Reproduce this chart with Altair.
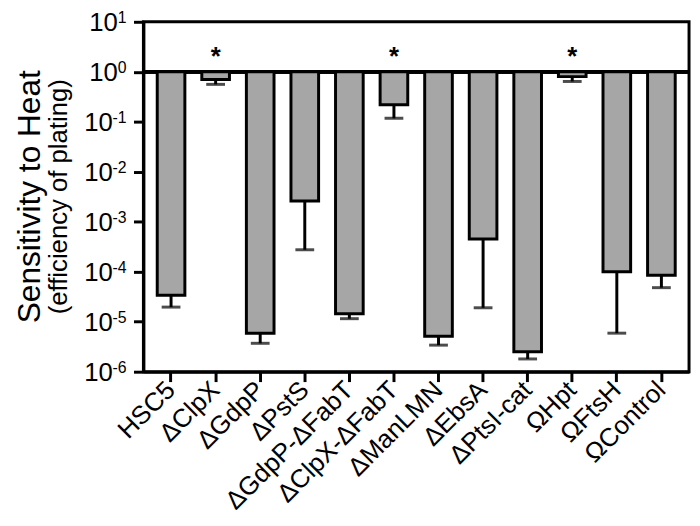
import altair as alt
import pandas as pd

categories = ["HSC5", "ΔClpX", "ΔGdpP", "ΔPstS", "ΔGdpP-ΔFabT", "ΔClpX-ΔFabT",
              "ΔManLMN", "ΔEbsA", "ΔPtsI-cat", "ΩHpt", "ΩFtsH", "ΩControl"]
values = [3.4e-5, 0.70, 5.9e-6, 2.6e-3, 1.44e-5, 0.22, 5.1e-6, 4.5e-4, 2.5e-6, 0.80, 1.0e-4, 8.5e-5]
err_low = [1.96e-5, 0.56, 3.7e-6, 2.75e-4, 1.15e-5, 0.117, 3.4e-6, 1.9e-5, 1.8e-6, 0.64, 5.9e-6, 4.8e-5]
significant = ["ΔClpX", "ΔClpX-ΔFabT", "ΩHpt"]
star_level = 2.0

tick_values = [1e1, 1e0, 1e-1, 1e-2, 1e-3, 1e-4, 1e-5, 1e-6]
tick_exponents = ["1", "0", "-1", "-2", "-3", "-4", "-5", "-6"]

FONT = "Liberation Sans"

df = pd.DataFrame({"cat": categories, "value": values, "low": err_low})
stars = pd.DataFrame({"cat": significant, "y": [star_level] * len(significant), "t": ["*"] * len(significant)})
ticks = pd.DataFrame({"v": tick_values, "e": tick_exponents})
ticks["neg"] = ticks["e"].str.startswith("-")

yscale = alt.Scale(type="log", domain=[1e-6, 10], nice=False)
xscale = alt.Scale(domain=categories, paddingInner=0.38, paddingOuter=0.31)

x_enc = alt.X("cat:N", scale=xscale, sort=categories,
              axis=alt.Axis(title=None, labelAngle=-45, labelAlign="right", labelBaseline="middle",
                            labelFontSize=26, labelFont=FONT, labelColor="black", labelPadding=4,
                            tickSize=10, tickWidth=3, tickColor="black",
                            domainWidth=3, domainColor="black"))
y_axis = alt.Axis(title=None, values=tick_values, labels=False, grid=False,
                  tickSize=10, tickWidth=3, tickColor="black", domainWidth=3, domainColor="black")

base = alt.Chart(df)

bars = base.mark_bar(fill="#a6a6a6", stroke="black", strokeWidth=3).encode(
    x=x_enc,
    y=alt.Y("value:Q", scale=yscale, axis=y_axis),
    y2=alt.datum(1),
)

err_line = base.mark_rule(color="black", strokeWidth=3).encode(
    x=alt.X("cat:N", scale=xscale, sort=categories),
    y=alt.Y("value:Q", scale=yscale),
    y2="low:Q",
)
err_cap = base.mark_tick(color="black", thickness=3, size=19).encode(
    x=alt.X("cat:N", scale=xscale, sort=categories),
    y=alt.Y("low:Q", scale=yscale),
)

one_line = base.mark_rule(color="black", strokeWidth=3).encode(y=alt.datum(1))

star_text = alt.Chart(stars).mark_text(fontSize=26, fontWeight="bold", font=FONT,
                                       baseline="middle", align="center", color="black").encode(
    x=alt.X("cat:N", scale=xscale, sort=categories),
    y=alt.Y("y:Q", scale=yscale),
    text="t:N",
)

tick_base = alt.Chart(ticks)
exp_text = tick_base.mark_text(fontSize=16, font=FONT, align="right", baseline="middle",
                               dy=-4, color="black").encode(
    x=alt.value(-17),
    y=alt.Y("v:Q", scale=yscale),
    text="e:N",
)
ten_pos = tick_base.transform_filter("!datum.neg").mark_text(
    fontSize=26, font=FONT, align="right", baseline="middle", color="black", dy=1).encode(
    x=alt.value(-26), y=alt.Y("v:Q", scale=yscale), text=alt.value("10"))
ten_neg = tick_base.transform_filter("datum.neg").mark_text(
    fontSize=26, font=FONT, align="right", baseline="middle", color="black", dy=1).encode(
    x=alt.value(-31), y=alt.Y("v:Q", scale=yscale), text=alt.value("10"))

chart = alt.layer(one_line, bars, err_line, err_cap, star_text, exp_text, ten_pos, ten_neg).properties(
    width=552, height=354,
    padding={"left": 137, "top": 11, "right": 3, "bottom": 140},
    autosize=alt.AutoSizeParams(type="none"),
    title=alt.Title("Sensitivity to Heat", subtitle="(efficiency of plating)", orient="left",
                    anchor="middle", fontSize=32, subtitleFontSize=26, font=FONT, subtitleFont=FONT,
                    fontWeight="normal", color="black", subtitleColor="black", offset=11,
                    subtitlePadding=0),
).configure_view(stroke="black", strokeWidth=3).configure_axis(labelFont=FONT)

chart.save("out.html", embed_options={"renderer": "svg", "actions": False})
